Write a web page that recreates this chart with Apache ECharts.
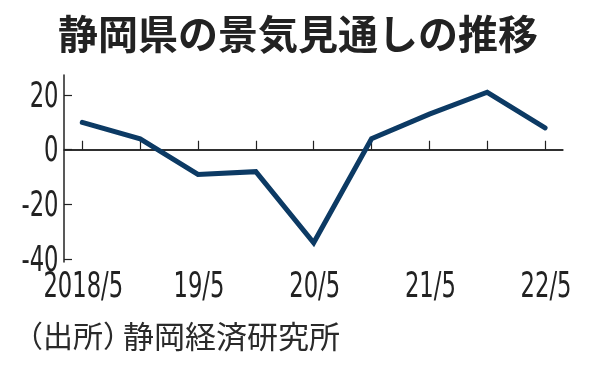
<!DOCTYPE html>
<html>
<head>
<meta charset="utf-8">
<script src="https://cdn.jsdelivr.net/npm/echarts@6/dist/echarts.min.js"></script>
<style>
html,body{margin:0;padding:0;background:#fff;}
#c{width:596px;height:368px;}
</style>
</head>
<body>
<div id="c"></div>
<script>
// Data
var periods = ['2018/5','2018/11','19/5','19/11','20/5','20/11','21/5','21/11','22/5'];
var values = [10, 4, -9, -8, -34, 4, 13, 21, 8];
var xTickLabels = {0:'2018/5', 2:'19/5', 4:'20/5', 6:'21/5', 8:'22/5'};
var yTickValues = [-40, -20, 0, 20];
var titleText = '静岡県の景気見通しの推移';
var sourcePrefix = '（出所）';
var sourceName = '静岡経済研究所';

var numFont = "'DejaVu Sans Condensed','DejaVu Sans',sans-serif";
var cjkFont = "'Noto Sans CJK JP',sans-serif";

var seriesData = values.map(function(v, i){ return [i, v]; });
var xTickIdx = periods.map(function(p, i){ return i; });
var xLabelIdx = Object.keys(xTickLabels).map(Number);

var chart = echarts.init(document.getElementById('c'), null, {renderer:'canvas'});
chart.setOption({
  backgroundColor: '#ffffff',
  animation: false,
  title: {
    text: titleText,
    left: 'center',
    top: 9,
    textStyle: {fontFamily: cjkFont, fontSize: 40, fontWeight: 'bold', color: '#222'}
  },
  grid: {left: 64, right: 33, top: 75, bottom: 106, containLabel: false},
  xAxis: {
    type: 'value',
    min: -0.316,
    max: 8.31,
    axisLine: {show: true, lineStyle: {color: '#222', width: 1.5}},
    axisTick: {show: true, inside: true, length: 9, customValues: xTickIdx, lineStyle: {color: '#222', width: 1.2}},
    axisLabel: {show: false},
    splitLine: {show: false}
  },
  yAxis: {
    type: 'value',
    min: -41,
    max: 27.3,
    axisLine: {show: true, onZero: false, lineStyle: {color: '#222', width: 1.5}},
    axisTick: {show: true, inside: true, length: 8, customValues: yTickValues, lineStyle: {color: '#222', width: 1.2}},
    axisLabel: {show: false},
    splitLine: {show: false}
  },
  series: [{
    type: 'line',
    data: seriesData,
    symbol: 'none',
    lineStyle: {color: '#0c3a64', width: 5, cap: 'round', join: 'miter'},
    z: 3,
    markLine: {
      silent: true,
      symbol: 'none',
      label: {show: false},
      lineStyle: {color: '#222', width: 1.5, type: 'solid'},
      data: [{yAxis: 0}],
      z: 2
    }
  }]
});

// Condensed tick labels placed through the axes' own scales
var labelFontSize = 36;
var squeeze = 0.7;
var graphics = [];
var axisY = chart.convertToPixel({yAxisIndex: 0}, -41);
var axisX = chart.convertToPixel({xAxisIndex: 0}, -0.316);
xLabelIdx.forEach(function(i){
  var px = chart.convertToPixel({xAxisIndex: 0}, i);
  graphics.push({
    type: 'text', x: px + 1, y: axisY + 25.5, scaleX: squeeze, z: 10,
    style: {text: xTickLabels[i], font: labelFontSize + 'px ' + numFont, fill: '#222',
            textAlign: 'center', textVerticalAlign: 'middle'}
  });
});
yTickValues.forEach(function(v){
  var py = chart.convertToPixel({yAxisIndex: 0}, v);
  graphics.push({
    type: 'text', x: axisX - 5.5, y: py + 2.3, scaleX: squeeze, z: 9,
    style: {text: String(v), font: labelFontSize + 'px ' + numFont, fill: '#222',
            textAlign: 'right', textVerticalAlign: 'middle'}
  });
});
graphics.push({
  type: 'text', x: 13, y: 321, z: 10,
  style: {text: sourcePrefix, font: '30px ' + cjkFont, fill: '#2a2a2a', textVerticalAlign: 'top'}
});
graphics.push({
  type: 'text', x: 123, y: 321, z: 10,
  style: {text: sourceName, font: '31px ' + cjkFont, fill: '#2a2a2a', textVerticalAlign: 'top'}
});
chart.setOption({graphic: graphics});
</script>
</body>
</html>
